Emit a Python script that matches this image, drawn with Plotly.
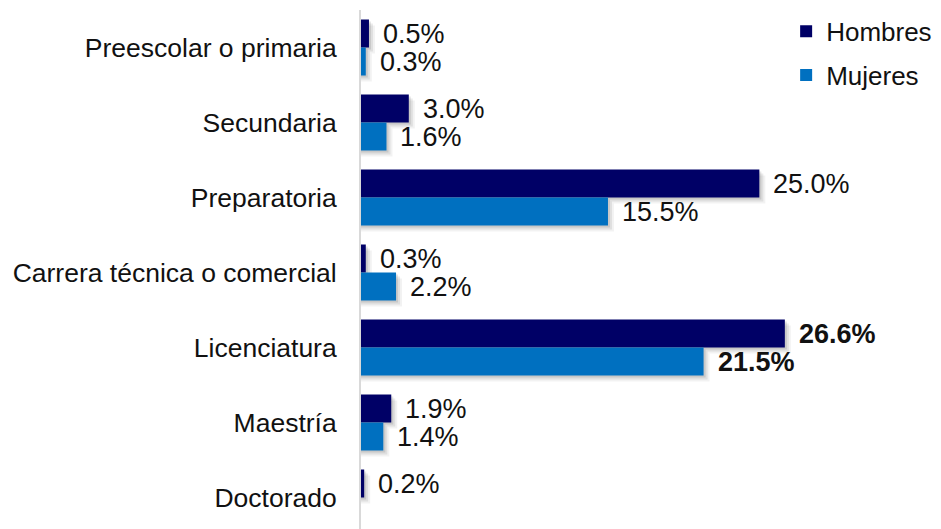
import plotly.graph_objects as go

categories = ["Preescolar o primaria", "Secundaria", "Preparatoria",
              "Carrera técnica o comercial", "Licenciatura", "Maestría", "Doctorado"]
hombres = [0.5, 3.0, 25.0, 0.3, 26.6, 1.9, 0.2]
mujeres = [0.3, 1.6, 15.5, 2.2, 21.5, 1.4, None]
bold_category = "Licenciatura"

C_H = "#000066"
C_M = "#0070C0"
FONT = "Liberation Sans, Arial, sans-serif"
FS = 27

BAR_W = 28 / 75.0  # bar width in category units

fig = go.Figure()

# soft drop shadows (layered, derived from the same data)
for series, off in ((hombres, -BAR_W), (mujeres, 0.0)):
    for k, a in ((2, 0.10), (4, 0.08), (6, 0.05)):
        fig.add_trace(go.Bar(
            y=categories, x=[(v + k / 15.94) if v is not None else None for v in series],
            orientation="h", offset=off + k / 75.0, width=BAR_W,
            marker=dict(color=f"rgba(0,0,0,{a})", line=dict(width=0)),
            showlegend=False, hoverinfo="skip"))

fig.add_trace(go.Bar(y=categories, x=hombres, name="Hombres", orientation="h",
                     offset=-BAR_W, width=BAR_W, legendgroup="h",
                     marker=dict(color=C_H, line=dict(width=0))))
fig.add_trace(go.Bar(y=categories, x=mujeres, name="Mujeres", orientation="h",
                     offset=0.0, width=BAR_W, legendgroup="m",
                     marker=dict(color=C_M, line=dict(width=0))))

annotations = []
for series, ysh in ((hombres, 14), (mujeres, -14)):
    for cat, v in zip(categories, series):
        if v is None:
            continue
        txt = f"{v:.1f}%"
        if cat == bold_category:
            txt = f"<b>{txt}</b>"
        annotations.append(dict(x=v, y=cat, xref="x", yref="y", text=txt,
                                showarrow=False, xanchor="left", yanchor="middle",
                                xshift=12, yshift=ysh,
                                font=dict(family=FONT, size=FS, color="#111")))

fig.update_layout(
    width=933, height=521,
    margin=dict(l=353, r=0, t=2, b=0, autoexpand=False),
    barmode="overlay",
    plot_bgcolor="white", paper_bgcolor="white",
    font=dict(family=FONT, size=26.5, color="#111"),
    xaxis=dict(range=[0, 36.4], visible=False, showgrid=False, zeroline=False),
    yaxis=dict(categoryorder="array", categoryarray=categories,
               range=[6.42, -0.5], showgrid=False, zeroline=False,
               showline=True, linecolor="#D9D9D9", linewidth=2,
               ticks="", ticklabelstandoff=17, automargin=False,
               tickfont=dict(family=FONT, size=26.5, color="#111")),
    legend=dict(x=0.733, y=1.004, xanchor="left", yanchor="top",
                bgcolor="rgba(0,0,0,0)", tracegroupgap=7,
                font=dict(family=FONT, size=26, color="#111")),
    annotations=annotations,
    showlegend=True,
)

fig.write_html("out.html")
